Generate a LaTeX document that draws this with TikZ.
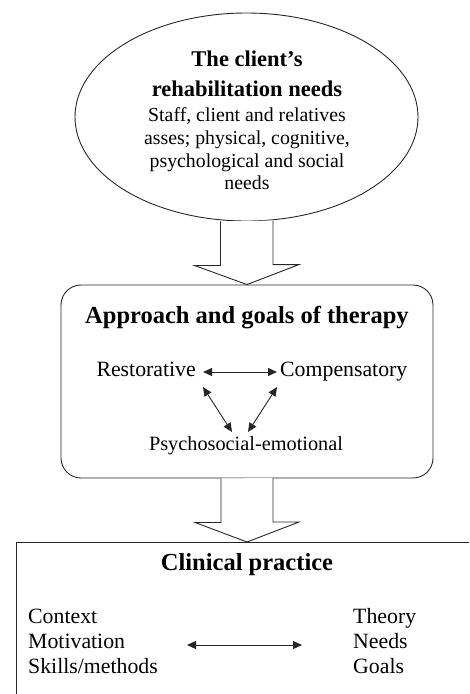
\documentclass[tikz,border=0pt]{standalone}
\usepackage{fontspec}
\setmainfont{Liberation Serif}
\usetikzlibrary{shapes.geometric,arrows.meta,calc}
\tikzset{
  line/.style={draw=black!85, line width=0.9pt},
  bigtitle/.style={font=\fontsize{24.5}{28}\selectfont\bfseries, anchor=base, inner sep=0pt},
  elltitle/.style={font=\fontsize{22.5}{26}\selectfont\bfseries, anchor=base, inner sep=0pt},
  bodytext/.style={font=\fontsize{21.8}{25}\selectfont, anchor=base, inner sep=0pt},
  elltext/.style={font=\fontsize{19.8}{23}\selectfont, anchor=base, inner sep=0pt},
  dbl/.style={line, {Triangle[length=9pt,width=8pt]}-{Triangle[length=9pt,width=8pt]}},
  blockarrow/.style={line, fill=white},
}
\begin{document}
\begin{tikzpicture}[x=1pt,y=-1pt]
\useasboundingbox (0,0) rectangle (469,694);
% ellipse
\node[ellipse, line, minimum width=343pt, minimum height=208pt, inner sep=0pt] (needs) at (246.5,117) {};
\node[elltitle] (t1) at (247,66) {The client's};
\node[elltitle] (t2) at (247,96) {rehabilitation needs};
\node[elltext] (e1) at (247,121) {Staff, client and relatives};
\node[elltext] (e2) at (247,144) {asses; physical, cognitive,};
\node[elltext] (e3) at (247,167) {psychological and social};
\node[elltext] (e4) at (247,189) {needs};
% middle box
\node[draw=black!85, line width=0.9pt, rounded corners=20pt, minimum width=372pt, minimum height=193pt, inner sep=0pt] (therapy) at (247,381.5) {};
\node[bigtitle] (t3) at (247,323) {Approach and goals of therapy};
\node[bodytext, anchor=base east] (rest) at (196,376) {Restorative};
\node[bodytext, anchor=base west] (comp) at (280,376) {Compensatory};
\node[bodytext, font=\fontsize{20.3}{24}\selectfont] (psy) at (246,450) {Psychosocial-emotional};
\coordinate (rA) at (203,372);
\coordinate (cA) at (277,372);
\coordinate (rB) at (203,387);
\coordinate (cB) at (277,387);
\coordinate (pL) at (232,432);
\coordinate (pR) at (248,432);
\draw[dbl] (rA) -- (cA);
\draw[dbl] (rB) -- (pL);
\draw[dbl] (cB) -- (pR);
% bottom box
\coordinate (bTL) at (16,542);
\draw[line] (469,542) -- (bTL) -- (16,694);
\node[bigtitle] (t4) at (247,570) {Clinical practice};
\node[bodytext, anchor=base west] (ctx) at (28,623) {Context};
\node[bodytext, anchor=base west] (mot) at (28,648) {Motivation};
\node[bodytext, anchor=base west] (sk) at (28,673) {Skills/methods};
\node[bodytext, anchor=base west] (th) at (353,623) {Theory};
\node[bodytext, anchor=base west] (nd) at (353,648) {Needs};
\node[bodytext, anchor=base west] (gl) at (353,673) {Goals};
\coordinate (aL) at (187,645);
\coordinate (aR) at (302,645);
\draw[dbl] (aL) -- (aR);
% block arrows
\draw[blockarrow] ($(needs.south)+(-26,0)$) -- ++(0,44) -- ++(-26,0) -- (therapy.north) -- ++(52,-20) -- ++(-26,0) -- ++(0,-44);
\draw[blockarrow] ($(therapy.south)+(-26,0)$) -- ++(0,44) -- ++(-26,0) -- (bTL -| therapy.south) -- ++(52,-20) -- ++(-26,0) -- ++(0,-44);
\end{tikzpicture}
\end{document}
